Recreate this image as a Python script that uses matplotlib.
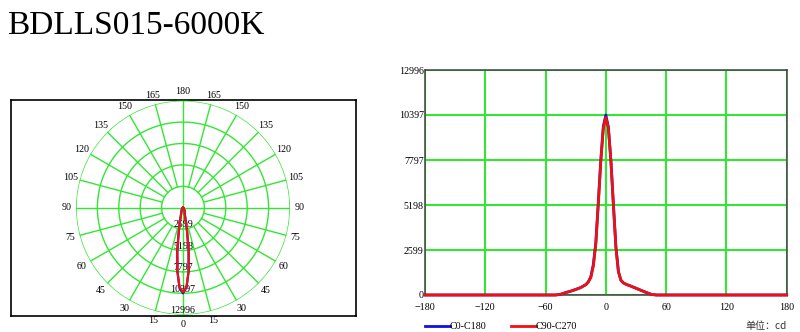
import numpy as np
import matplotlib
matplotlib.use("Agg")
import matplotlib.pyplot as plt

plt.rcParams['font.family'] = ['Liberation Serif', 'DejaVu Serif']

# 光强分布数据 (cd)
angles = [-180, -50, -45, -40, -35, -30, -25, -20, -17.5, -15, -12.5, -10, -7.5, -5, -2.5,
          0, 2.5, 5, 7.5, 10, 12.5, 15, 17.5, 20, 25, 30, 35, 40, 45, 50, 180]
c0_c180 = [0, 0, 40, 140, 220, 320, 430, 600, 760, 1050, 1750, 3000, 5350, 7800, 9750,
           10397, 9700, 7800, 5250, 2800, 1350, 850, 700, 620, 510, 390, 270, 150, 40, 0, 0]
c90_c270 = [0, 0, 40, 140, 220, 320, 430, 590, 740, 1000, 1650, 2950, 5300, 7750, 9650,
            10250, 9650, 7750, 5200, 2750, 1350, 850, 700, 620, 510, 390, 270, 150, 40, 0, 0]
levels = [2599, 5198, 7797, 10397, 12996]
xticks = [-180, -120, -60, 0, 60, 120, 180]
yticks = [0, 2599, 5198, 7797, 10397, 12996]
angle_labels = list(range(0, 181, 15))

green = '#33e633'
fs = 7.2

fig = plt.figure(figsize=(8, 3.32), dpi=100)
fig.text(7 / 800, 1 - 34.3 / 332, 'BDLLS015-6000K', fontsize=24, va='baseline', ha='left')

# ---- 左边: 极坐标配光曲线 ----
frame = fig.add_axes([11 / 800, 1 - 316 / 332, 345 / 800, 216 / 332])
frame.set_xticks([])
frame.set_yticks([])
for s in frame.spines.values():
    s.set_color('black')
    s.set_linewidth(1.2)

pax = fig.add_axes([76 / 800, 1 - 314.7 / 332, 214 / 800, 214 / 332], projection='polar')
pax.set_facecolor('none')
pax.set_theta_zero_location('S')
pax.set_ylim(0, levels[-1])
pax.grid(False)
pax.set_xticks([])
pax.set_yticks([])
pax.spines['polar'].set_visible(False)

t = np.linspace(0, 2 * np.pi, 361)
for lv in levels:
    pax.plot(t, [lv] * len(t), color=green, lw=1.0, zorder=1)
for a in range(0, 360, 15):
    r0 = 0 if a % 90 == 0 else levels[0]
    pax.plot([np.deg2rad(a)] * 2, [r0, levels[-1]], color=green, lw=1.0, zorder=1)

for a in angle_labels:
    for sgn in ([1] if a in (0, 180) else [1, -1]):
        pax.text(np.deg2rad(sgn * a), levels[-1] * 1.09, str(a), fontsize=fs,
                 ha='center', va='center')
for lv in levels:
    pax.text(0, lv - 520, str(lv), fontsize=fs, ha='center', va='center', zorder=2)

th = np.deg2rad(angles)
pax.plot(th, c0_c180, color='#1010e0', lw=1.6, zorder=3)
pax.plot(th, c90_c270, color='#ee1111', lw=1.6, zorder=4)

# ---- 右边: 直角坐标曲线 ----
ax = fig.add_axes([425 / 800, 1 - 295 / 332, 361.7 / 800, 225 / 332])
ax.set_xlim(-180, 180)
ax.set_ylim(0, 12996)
ax.set_xticks(xticks)
ax.set_yticks(yticks)
ax.tick_params(length=0, labelsize=fs)
ax.tick_params(axis='x', pad=6)
ax.tick_params(axis='y', pad=1)
ax.grid(True, color=green, lw=1.5)
ax.set_axisbelow(True)
for s in ax.spines.values():
    s.set_color('#404040')
    s.set_linewidth(1.1)

l1, = ax.plot(angles, c0_c180, color='#1010e0', lw=2, label='C0-C180', clip_on=False, zorder=3)
l2, = ax.plot(angles, c90_c270, color='#ee1111', lw=2, label='C90-C270', clip_on=False, zorder=4)

ax.legend(handles=[l1, l2], loc='center left', bbox_to_anchor=(0, -0.14), ncol=2,
          frameon=False, fontsize=fs, handlelength=2.5, handletextpad=0,
          columnspacing=2.4, borderpad=0, borderaxespad=0)
ax.text(1, -0.14, '单位：cd', transform=ax.transAxes, ha='right', va='center',
        fontsize=fs, family=['Noto Sans CJK SC', 'DejaVu Sans'], color='#333333')

fig.savefig('out.png', dpi=100)
